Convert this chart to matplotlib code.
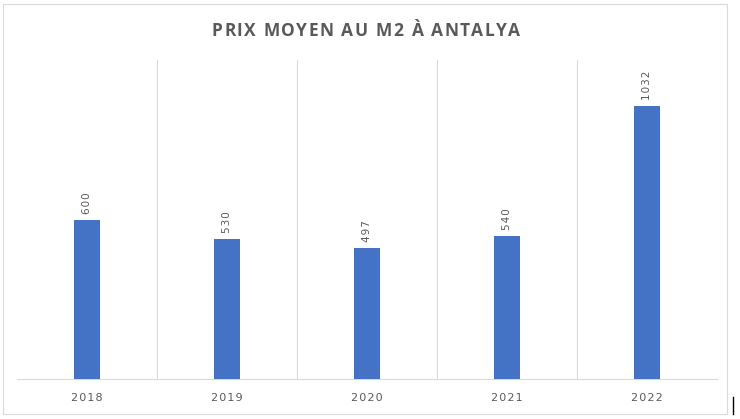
import matplotlib.pyplot as plt
from matplotlib.patches import Rectangle

# data
years = ['2018', '2019', '2020', '2021', '2022']
prix = [600, 530, 497, 540, 1032]

fig = plt.figure(figsize=(7.4, 4.19), dpi=100)
ax = fig.add_axes([17 / 740, 1 - 379 / 419, 700 / 740, 319 / 419])

x = range(len(years))
ax.bar(x, prix, width=0.19, color='#4472C4', zorder=3)
ax.set_xlim(-0.5, len(years) - 0.5)
ax.set_ylim(0, 1206)

for i, v in zip(x, prix):
    ax.text(i, v + 22, '\u200a'.join(str(v)), rotation=90, ha='center', va='bottom',
            fontsize=7.5, color='#595959')

# vertical separators between categories
for b in [k + 0.5 for k in range(len(years) - 1)]:
    ax.axvline(b, color='#D9D9D9', lw=0.8, zorder=1)

ax.set_xticks(list(x))
ax.set_xticklabels(['\u200a'.join(y) for y in years], fontsize=8, color='#595959')
ax.tick_params(axis='x', length=0, pad=10)
ax.set_yticks([])
for s in ['top', 'left', 'right']:
    ax.spines[s].set_visible(False)
ax.spines['bottom'].set_color('#D9D9D9')

# title with letter spacing, drawn char by char
title = 'PRIX MOYEN AU M2 À ANTALYA'
fig.canvas.draw()
r = fig.canvas.get_renderer()
widths = []
for ch in title:
    t = fig.text(0, 0, ch if ch != ' ' else 'I', fontsize=12.5, fontweight='bold',
                 family='Open Sans')
    w = t.get_window_extent(r).width
    if ch == ' ':
        w *= 0.8
    widths.append(w)
    t.remove()
gap = 1.5
total = sum(widths) + gap * (len(title) - 1)
xpos = 366 - total / 2
for ch, w in zip(title, widths):
    if ch != ' ':
        fig.text(xpos / 740, 1 - 31 / 419, ch, ha='left', va='center', fontsize=12.5,
                 fontweight='bold', color='#595959', family='Open Sans')
    xpos += w + gap

# outer chart border
fig.patches.append(Rectangle((3 / 740, 1 - 414 / 419), 724 / 740, 410 / 419,
                             transform=fig.transFigure, fill=False,
                             edgecolor='#D9D9D9', lw=0.8))
fig.lines.append(plt.Line2D([733 / 740, 733 / 740], [1 - 414 / 419, 1 - 397 / 419],
                            transform=fig.transFigure, color='black', lw=1))

plt.savefig('out.png', dpi=100)
plt.close()
